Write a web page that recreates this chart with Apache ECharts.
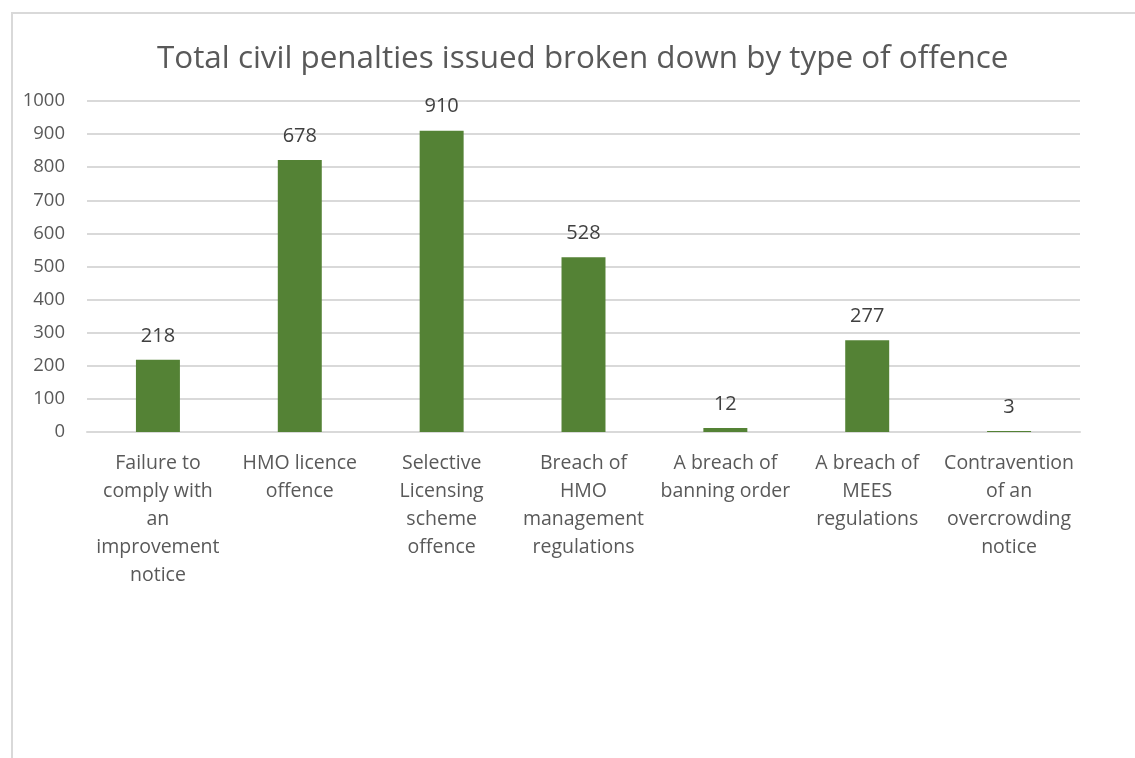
<!DOCTYPE html>
<html>
<head>
<meta charset="utf-8">
<script src="https://cdn.jsdelivr.net/npm/echarts@6/dist/echarts.min.js"></script>
<style>
html, body { margin: 0; padding: 0; background: #fff; }
#frame { position: absolute; left: 11px; top: 12px; width: 1140px; height: 760px; border-left: 2px solid #d9d9d9; border-top: 2px solid #d9d9d9; }
#main { position: absolute; left: 0; top: 0; width: 1135px; height: 758px; }
</style>
</head>
<body>
<div id="frame"></div>
<div id="main"></div>
<script>
var chartTitle = 'Total civil penalties issued broken down by type of offence';
var categories = [
    'Failure to\ncomply with\nan\nimprovement\nnotice',
    'HMO licence\noffence',
    'Selective\nLicensing\nscheme\noffence',
    'Breach of\nHMO\nmanagement\nregulations',
    'A breach of\nbanning order',
    'A breach of\nMEES\nregulations',
    'Contravention\nof an\novercrowding\nnotice'
];
// bar heights as drawn
var barValues = [218, 822, 910, 528, 12, 277, 3];
// numbers printed above the bars
var barLabels = ['218', '678', '910', '528', '12', '277', '3'];
var yTicks = { min: 0, max: 1000, interval: 100 };

var textFont = '"Open Sans", "Liberation Sans", sans-serif';
var myChart = echarts.init(document.getElementById('main'));

var option = {
    backgroundColor: 'transparent',
    animation: false,
    title: {
        text: chartTitle,
        left: 152,
        top: 39,
        textStyle: { color: '#595959', fontSize: 31.4, fontWeight: 'normal', fontFamily: textFont }
    },
    grid: { left: 87, right: 55, top: 101, bottom: 326, containLabel: false },
    xAxis: {
        type: 'category',
        data: categories,
        axisLine: { lineStyle: { color: '#d9d9d9', width: 2 } },
        axisTick: { show: false },
        axisLabel: {
            color: '#595959', fontSize: 19.5, fontFamily: textFont,
            lineHeight: 28, margin: 17, interval: 0
        }
    },
    yAxis: {
        type: 'value',
        min: yTicks.min,
        max: yTicks.max,
        interval: yTicks.interval,
        axisLine: { show: false },
        axisTick: { show: false },
        splitLine: { lineStyle: { color: '#d9d9d9', width: 2 } },
        axisLabel: {
            color: '#595959', fontSize: 18.5, fontFamily: textFont, margin: 22,
            formatter: function (v) { return String(v); }
        }
    },
    series: [{
        type: 'bar',
        data: barValues,
        barWidth: '31%',
        itemStyle: { color: '#548235' },
        label: {
            show: true,
            position: 'top',
            distance: 14,
            color: '#404040',
            fontSize: 20,
            fontFamily: textFont,
            formatter: function (p) { return barLabels[p.dataIndex]; }
        }
    }]
};
myChart.setOption(option);

window.onresize = function () { myChart.resize(); };
</script>
</body>
</html>
